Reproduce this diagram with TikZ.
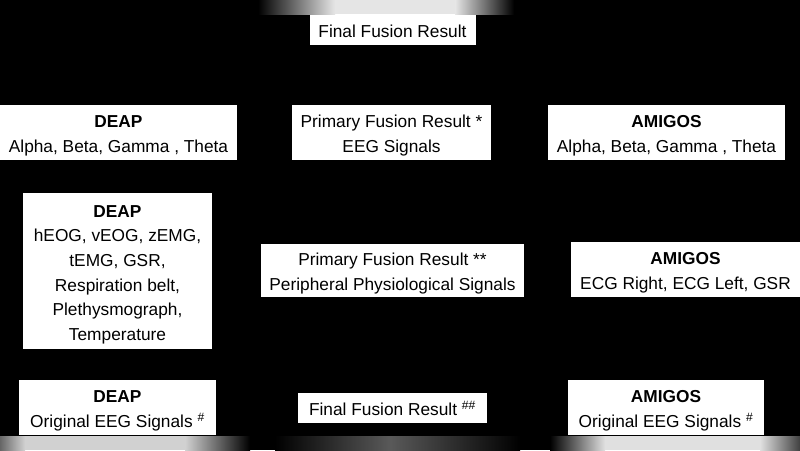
\documentclass[tikz,border=0pt]{standalone}
\usepackage{fontspec}
\setmainfont{Liberation Sans}
\newcommand{\boxtop}{\rule{0pt}{20pt}}
\newcommand{\boxbot}{\rule[-4.6pt]{0pt}{4.6pt}}
\begin{document}
\begin{tikzpicture}[x=1pt, y=-1pt,
  fusionbox/.style={rectangle, inner sep=0pt, draw=none, fill=white, text=black, align=center, font=\fontsize{17.3}{24.6}\selectfont}]
\useasboundingbox (0, 0) rectangle (800, 450);
\fill[black] (0, 0) rectangle (800, 450);
\node[fusionbox, minimum width=166, minimum height=31] at (392.5, 29.5) (finaltop) {\boxtop Final Fusion Result\boxbot};
\node[fusionbox, minimum width=237, minimum height=55] at (118.5, 132.5) (deapbands) {\boxtop\textbf{DEAP}\\Alpha, Beta, Gamma , Theta\boxbot};
\node[fusionbox, minimum width=199, minimum height=55] at (391.5, 132.5) (primaryeeg) {\boxtop Primary Fusion Result *\\EEG Signals\boxbot};
\node[fusionbox, minimum width=237, minimum height=55] at (666.5, 132.5) (amigosbands) {\boxtop\textbf{AMIGOS}\\Alpha, Beta, Gamma , Theta\boxbot};
\node[fusionbox, minimum width=189, minimum height=156] at (117.5, 271) (deapperi) {\boxtop\textbf{DEAP}\\hEOG, vEOG, zEMG,\\tEMG, GSR,\\Respiration belt,\\Plethysmograph,\\Temperature\boxbot};
\node[fusionbox, minimum width=263, minimum height=53] at (392.5, 270.5) (primaryperi) {\boxtop Primary Fusion Result **\\Peripheral Physiological Signals\boxbot};
\node[fusionbox, minimum width=229, minimum height=55] at (685.5, 269.5) (amigosperi) {\boxtop\textbf{AMIGOS}\\ECG Right, ECG Left, GSR\boxbot};
\node[fusionbox, minimum width=197, minimum height=55] at (117.5, 407.5) (deaporig) {\boxtop\textbf{DEAP}\\Original EEG Signals \textsuperscript{\#}\boxbot};
\node[fusionbox, minimum width=189, minimum height=30] at (392.5, 408) (finalorig) {\boxtop Final Fusion Result \textsuperscript{\#\#}\boxbot};
\node[fusionbox, minimum width=196, minimum height=55] at (666, 407.5) (amigosorig) {\boxtop\textbf{AMIGOS}\\Original EEG Signals \textsuperscript{\#}\boxbot};
\shade[left color=black, right color=black!10] (258, 0) rectangle (335, 14);
\fill[black!10] (335, 0) rectangle (455, 14);
\shade[left color=black!10, right color=black] (455, 0) rectangle (514, 14);
\shade[left color=black!60, right color=black!18] (0, 436) rectangle (25, 450);
\fill[black!18] (25, 436) rectangle (185, 450);
\shade[left color=black!18, right color=black] (185, 436) rectangle (250, 450);
\fill[black] (250, 436) rectangle (275, 450);
\shade[left color=black, right color=black!65] (275, 436) rectangle (390, 450);
\shade[left color=black!65, right color=black] (390, 436) rectangle (520, 450);
\fill[black] (520, 436) rectangle (550, 450);
\shade[left color=black, right color=black!12] (550, 436) rectangle (605, 450);
\fill[black!12] (605, 436) rectangle (760, 450);
\shade[left color=black!12, right color=black!75] (760, 436) rectangle (800, 450);
\end{tikzpicture}
\end{document}
